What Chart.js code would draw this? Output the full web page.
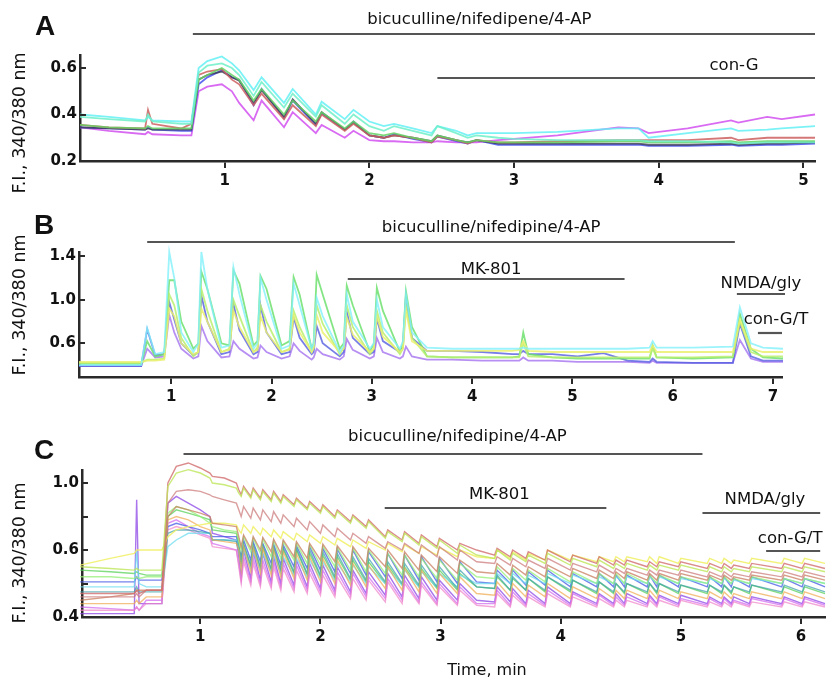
<!DOCTYPE html>
<html><head><meta charset="utf-8">
<script src="https://cdn.jsdelivr.net/npm/chart.js@4/dist/chart.umd.min.js"></script>
<style>
html,body{margin:0;padding:0;background:#fff;}
#wrap{position:relative;width:827px;height:681px;overflow:hidden;background:#fff;}
canvas{position:absolute;left:0;}
</style></head>
<body><div id="wrap">
<canvas id="cA" width="827" height="200" style="top:0px"></canvas>
<canvas id="cB" width="827" height="210" style="top:200px"></canvas>
<canvas id="cC" width="827" height="271" style="top:410px"></canvas>
</div>
<script>
// ---------- Panel A data ----------
const aTime = [0,0.2,0.45,0.47,0.5,0.7,0.77,0.82,0.88,0.98,
 1.05,1.1,1.2,1.255,1.41,1.47,1.63,1.67,1.83,1.89,
 2.0,2.1,2.17,2.3,2.43,2.47,2.6,2.68,2.74,2.89,
 3.0,3.3,3.72,3.86,3.93,4.2,4.5,4.55,4.75,4.85,5.08];
const aCyan = [0.40,0.39,0.375,0.39,0.375,0.37,0.37,0.60,0.63,0.65,
 0.62,0.59,0.505,0.56,0.45,0.51,0.40,0.455,0.38,0.42,
 0.37,0.35,0.36,0.34,0.32,0.35,0.33,0.31,0.32,0.32,
 0.32,0.325,0.34,0.34,0.30,0.32,0.34,0.33,0.335,0.34,0.35];
const aAqua = [0.39,0.38,0.37,0.40,0.37,0.36,0.36,0.58,0.61,0.62,
 0.60,0.57,0.48,0.54,0.43,0.49,0.39,0.44,0.36,0.40,
 0.35,0.33,0.35,0.33,0.31,0.35,0.32,0.30,0.31,0.30,
 0.295,0.29,0.29,0.29,0.285,0.285,0.28,0.275,0.28,0.28,0.28];
const aGreen = [0.355,0.345,0.34,0.35,0.34,0.34,0.34,0.55,0.57,0.60,
 0.57,0.55,0.46,0.51,0.40,0.46,0.37,0.41,0.34,0.37,
 0.32,0.31,0.32,0.30,0.285,0.31,0.29,0.28,0.29,0.28,
 0.28,0.28,0.285,0.285,0.28,0.28,0.285,0.28,0.285,0.285,0.285];
const aRed = [0.355,0.345,0.34,0.42,0.36,0.34,0.36,0.57,0.585,0.595,
 0.55,0.53,0.44,0.49,0.38,0.44,0.35,0.40,0.33,0.36,
 0.31,0.30,0.31,0.30,0.28,0.305,0.29,0.275,0.29,0.28,
 0.28,0.285,0.29,0.29,0.29,0.29,0.30,0.29,0.30,0.30,0.30];
const aBlue = [0.345,0.34,0.335,0.345,0.335,0.33,0.33,0.53,0.56,0.59,
 0.56,0.55,0.44,0.51,0.385,0.46,0.355,0.405,0.335,0.37,
 0.31,0.30,0.315,0.295,0.28,0.305,0.285,0.275,0.29,0.27,
 0.27,0.27,0.27,0.27,0.265,0.265,0.27,0.265,0.27,0.27,0.275];
const aDark = [0.345,0.34,0.335,0.34,0.335,0.335,0.335,0.55,0.57,0.585,
 0.56,0.545,0.45,0.505,0.39,0.465,0.36,0.41,0.335,0.365,
 0.31,0.30,0.31,0.30,0.285,0.31,0.29,0.28,0.29,0.275,
 0.275,0.275,0.275,0.275,0.27,0.27,0.275,0.27,0.275,0.275,0.28];
const aMagenta = [0.345,0.33,0.315,0.325,0.315,0.31,0.31,0.50,0.52,0.53,
 0.50,0.45,0.375,0.46,0.345,0.41,0.32,0.355,0.30,0.33,
 0.29,0.285,0.285,0.28,0.28,0.285,0.28,0.28,0.28,0.29,
 0.295,0.31,0.345,0.34,0.32,0.34,0.375,0.365,0.39,0.38,0.40];
const aXTicks = [1,2,3,4,5];
const aYTicks = [0.2,0.4,0.6];
const aYLabels = ['0.2','0.4','0.6'];
const aDrugs = ['bicuculline/nifedipene/4-AP','con-G'];
const aDrugStart = [0.78,2.47];
const aDrugEnd = [5.08,5.08];
const aDrugTextAt = [2.76,4.52];

// ---------- Panel B data ----------
const bTime = [0.08,0.40,0.70,0.76,0.84,0.93,0.98,1.03,1.10,1.22,
 1.27,1.30,1.36,1.50,1.58,1.62,1.68,1.82,1.86,1.89,
 1.95,2.10,2.18,2.22,2.28,2.40,2.42,2.45,2.51,2.68,
 2.72,2.75,2.81,2.98,3.02,3.05,3.11,3.28,3.31,3.34,
 3.40,3.55,3.80,4.10,4.40,4.47,4.51,4.56,4.80,5.05,
 5.31,5.55,5.77,5.80,5.84,6.20,6.60,6.67,6.78,6.90,
 7.10];
const bCyan = [0.40,0.40,0.40,0.74,0.50,0.52,1.44,1.20,0.70,0.52,
 0.60,1.44,1.10,0.56,0.58,1.30,1.05,0.55,0.60,1.20,
 1.00,0.55,0.58,1.15,0.95,0.55,0.60,1.02,0.85,0.52,
 0.58,1.05,0.80,0.55,0.60,1.00,0.75,0.55,0.62,1.05,
 0.70,0.56,0.55,0.55,0.55,0.55,0.56,0.55,0.55,0.55,
 0.55,0.55,0.56,0.62,0.56,0.56,0.57,0.93,0.60,0.56,
 0.55];
const bGreen = [0.41,0.41,0.41,0.62,0.48,0.50,1.18,1.18,0.80,0.55,
 0.60,1.26,1.10,0.60,0.58,1.27,1.15,0.58,0.62,1.22,
 1.10,0.58,0.62,1.21,1.05,0.55,0.60,1.23,1.05,0.55,
 0.60,1.13,0.95,0.52,0.60,1.11,0.90,0.52,0.60,1.08,
 0.75,0.48,0.47,0.47,0.47,0.48,0.70,0.50,0.47,0.46,
 0.46,0.46,0.46,0.58,0.47,0.46,0.47,0.87,0.55,0.47,
 0.46];
const bLime = [0.42,0.42,0.42,0.45,0.45,0.46,1.05,0.95,0.65,0.48,
 0.52,1.10,0.90,0.52,0.55,1.00,0.85,0.52,0.56,0.95,
 0.80,0.52,0.55,0.90,0.75,0.52,0.56,0.95,0.78,0.50,
 0.56,0.95,0.75,0.50,0.55,0.90,0.70,0.50,0.55,0.95,
 0.65,0.48,0.47,0.47,0.47,0.47,0.60,0.48,0.47,0.47,
 0.47,0.47,0.47,0.55,0.47,0.47,0.48,0.80,0.52,0.48,
 0.48];
const bYellow = [0.43,0.43,0.43,0.44,0.44,0.45,0.92,0.85,0.60,0.50,
 0.52,0.92,0.80,0.52,0.54,0.90,0.75,0.52,0.54,0.85,
 0.70,0.52,0.54,0.86,0.70,0.52,0.56,0.86,0.70,0.52,
 0.55,0.84,0.68,0.52,0.55,0.85,0.66,0.52,0.55,0.90,
 0.62,0.53,0.53,0.53,0.53,0.54,0.62,0.53,0.52,0.52,
 0.52,0.52,0.52,0.58,0.52,0.52,0.52,0.82,0.55,0.52,
 0.52];
const bBlue = [0.39,0.39,0.39,0.73,0.49,0.50,0.98,0.82,0.60,0.49,
 0.52,1.04,0.80,0.50,0.52,0.96,0.72,0.50,0.52,0.95,
 0.70,0.50,0.52,0.84,0.65,0.50,0.52,0.76,0.60,0.48,
 0.52,0.89,0.65,0.50,0.52,0.83,0.62,0.52,0.56,1.03,
 0.65,0.53,0.53,0.52,0.50,0.50,0.53,0.50,0.50,0.48,
 0.51,0.44,0.43,0.46,0.43,0.42,0.42,0.78,0.48,0.44,
 0.44];
const bPurple = [0.39,0.39,0.39,0.55,0.47,0.48,0.86,0.70,0.55,0.46,
 0.48,0.76,0.62,0.47,0.48,0.62,0.55,0.46,0.47,0.58,
 0.52,0.46,0.48,0.60,0.53,0.45,0.47,0.55,0.50,0.45,
 0.48,0.64,0.54,0.46,0.48,0.65,0.52,0.46,0.48,0.57,
 0.48,0.45,0.45,0.44,0.44,0.44,0.47,0.44,0.44,0.43,
 0.43,0.43,0.42,0.44,0.42,0.42,0.42,0.63,0.46,0.43,
 0.43];
const bXTicks = [1,2,3,4,5,6,7];
const bYTicks = [0.6,1.0,1.4];
const bYLabels = ['0.6','1.0','1.4'];
const bDrugs = ['bicuculline/nifedipine/4-AP','MK-801','NMDA/gly','con-G/T'];
const bDrugStart = [0.76,2.76,6.64,6.85];
const bDrugEnd = [6.62,5.52,7.12,7.09];
const bDrugTextAt = [4.19,4.19,6.88,7.03];

// ---------- Panel C data ----------
const cTime = [0,0.25,0.45,0.47,0.49,0.55,0.68,0.73,0.80,0.90,
 1.00,1.08,1.10,1.20,1.30,1.32,1.34,1.36,1.42,1.44,
 1.50,1.52,1.59,1.61,1.67,1.69,1.78,1.80,1.89,1.91,
 2.00,2.02,2.12,2.14,2.25,2.27,2.38,2.40,2.54,2.56,
 2.68,2.70,2.82,2.84,2.97,2.99,3.14,3.16,3.30,3.45,
 3.47,3.58,3.60,3.71,3.73,3.87,3.89,4.08,4.10,4.30,
 4.32,4.44,4.46,4.53,4.55,4.72,4.74,4.80,4.82,4.98,
 5.00,5.22,5.24,5.34,5.36,5.42,5.44,5.57,5.59,5.84,
 5.86,6.01,6.03,6.20];
const cRed1 = [0.47,0.47,0.47,0.48,0.47,0.48,0.48,1.00,1.10,1.12,1.09,1.06,1.04,1.03,1.00,0.96,
 0.93,0.98,0.92,0.97,0.91,0.96,0.90,0.95,0.89,0.93,0.87,0.91,0.85,0.89,0.83,0.87,
 0.80,0.84,0.77,0.81,0.74,0.78,0.68,0.72,0.66,0.71,0.64,0.69,0.62,0.67,0.60,0.64,
 0.60,
 0.585,0.61,0.58,0.60,0.575,0.595,0.57,0.60,0.565,0.585,0.56,0.58,0.555,0.57,0.555,0.57,
 0.55,0.565,0.55,0.565,0.55,0.565,0.545,0.56,0.545,0.56,0.545,0.555,0.545,0.56,0.545,0.56,0.545,0.56,
 0.545];
const cYellowGreen = [0.55,0.545,0.54,0.545,0.54,0.54,0.54,0.98,1.06,1.08,1.06,1.03,1.00,0.99,0.97,0.94,
 0.92,0.97,0.91,0.96,0.90,0.95,0.89,0.94,0.88,0.92,0.86,0.90,0.84,0.88,0.82,0.86,
 0.79,0.83,0.76,0.80,0.73,0.77,0.67,0.71,0.65,0.70,0.63,0.68,0.61,0.66,0.59,0.63,
 0.585,
 0.575,0.60,0.57,0.59,0.565,0.585,0.56,0.59,0.555,0.575,0.55,0.57,0.545,0.56,0.545,0.56,
 0.54,0.555,0.54,0.555,0.54,0.555,0.535,0.55,0.535,0.55,0.535,0.545,0.535,0.55,0.535,0.55,0.535,0.55,
 0.535];
const cRed2 = [0.46,0.46,0.46,0.47,0.46,0.48,0.48,0.88,0.95,0.96,0.95,0.93,0.92,0.90,0.88,0.84,
 0.80,0.86,0.79,0.85,0.78,0.84,0.77,0.83,0.76,0.81,0.74,0.79,0.72,0.77,0.70,0.75,
 0.68,0.73,0.66,0.70,0.64,0.68,0.61,0.65,0.60,0.64,0.59,0.63,0.58,0.62,0.57,0.60,
 0.565,
 0.56,0.58,0.555,0.575,0.55,0.57,0.545,0.575,0.54,0.56,0.535,0.555,0.53,0.545,0.53,0.545,
 0.525,0.54,0.525,0.54,0.525,0.54,0.52,0.535,0.52,0.535,0.52,0.53,0.52,0.535,0.52,0.535,0.52,0.535,
 0.52];
const cYellow = [0.555,0.575,0.59,0.60,0.60,0.60,0.60,0.68,0.72,0.74,0.75,0.76,0.76,0.76,0.75,0.72,
 0.70,0.75,0.70,0.74,0.69,0.73,0.68,0.72,0.67,0.71,0.66,0.70,0.65,0.69,0.64,0.68,
 0.63,0.67,0.62,0.66,0.61,0.65,0.60,0.64,0.595,0.63,0.59,0.62,0.585,0.615,0.58,0.60,
 0.58,
 0.575,0.60,0.575,0.595,0.57,0.59,0.57,0.60,0.57,0.585,0.565,0.58,0.565,0.58,0.565,0.58,
 0.565,0.58,0.56,0.58,0.56,0.575,0.56,0.575,0.56,0.575,0.56,0.57,0.56,0.575,0.56,0.575,0.56,0.575,
 0.56];
const cBlue = [0.505,0.505,0.505,0.52,0.51,0.51,0.51,0.74,0.76,0.74,0.72,0.70,0.68,0.68,0.68,0.62,
 0.58,0.66,0.57,0.65,0.565,0.64,0.56,0.635,0.555,0.63,0.55,0.625,0.545,0.62,0.54,0.61,
 0.535,0.605,0.53,0.60,0.525,0.595,0.52,0.59,0.515,0.585,0.51,0.58,0.505,0.575,0.50,0.565,
 0.505,
 0.50,0.54,0.50,0.54,0.495,0.535,0.495,0.54,0.49,0.53,0.49,0.53,0.49,0.525,0.49,0.525,
 0.49,0.525,0.49,0.525,0.49,0.52,0.49,0.52,0.49,0.52,0.49,0.515,0.49,0.52,0.49,0.515,0.49,0.515,
 0.49];
const cGreen = [0.54,0.535,0.53,0.535,0.53,0.525,0.525,0.80,0.84,0.82,0.80,0.78,0.72,0.71,0.70,0.64,
 0.56,0.63,0.55,0.62,0.545,0.615,0.54,0.61,0.535,0.605,0.53,0.60,0.525,0.59,0.52,0.585,
 0.515,0.58,0.51,0.57,0.505,0.565,0.50,0.555,0.495,0.55,0.49,0.545,0.485,0.54,0.48,0.53,
 0.49,
 0.485,0.52,0.48,0.515,0.48,0.515,0.475,0.52,0.475,0.51,0.47,0.505,0.47,0.50,0.47,0.50,
 0.47,0.50,0.47,0.50,0.47,0.495,0.47,0.495,0.47,0.495,0.47,0.49,0.47,0.495,0.47,0.49,0.47,0.49,
 0.47];
const cCyan = [0.49,0.49,0.49,0.60,0.50,0.49,0.49,0.62,0.66,0.70,0.70,0.70,0.66,0.66,0.66,0.60,
 0.55,0.60,0.545,0.595,0.54,0.59,0.535,0.585,0.53,0.58,0.525,0.575,0.52,0.57,0.515,0.565,
 0.51,0.56,0.505,0.555,0.50,0.55,0.50,0.545,0.495,0.54,0.49,0.535,0.49,0.53,0.49,0.525,
 0.50,
 0.50,0.53,0.50,0.53,0.50,0.525,0.50,0.53,0.50,0.525,0.50,0.52,0.50,0.52,0.50,0.52,
 0.50,0.52,0.50,0.52,0.50,0.515,0.50,0.515,0.50,0.515,0.50,0.51,0.50,0.515,0.50,0.515,0.50,0.515,
 0.50];
const cPurple = [0.41,0.41,0.41,0.90,0.44,0.44,0.44,0.88,0.92,0.88,0.84,0.80,0.70,0.68,0.66,0.58,
 0.52,0.60,0.515,0.595,0.51,0.59,0.505,0.58,0.50,0.575,0.495,0.57,0.49,0.56,0.485,0.555,
 0.48,0.55,0.475,0.54,0.47,0.535,0.465,0.53,0.46,0.525,0.455,0.52,0.45,0.51,0.45,0.50,
 0.45,
 0.445,0.49,0.445,0.485,0.44,0.48,0.44,0.49,0.44,0.475,0.44,0.47,0.44,0.47,0.44,0.47,
 0.44,0.465,0.44,0.465,0.44,0.465,0.44,0.46,0.44,0.46,0.44,0.46,0.44,0.46,0.44,0.46,0.44,0.46,
 0.44];
const cMagenta = [0.43,0.425,0.42,0.43,0.42,0.45,0.45,0.76,0.78,0.74,0.70,0.68,0.64,0.62,0.60,0.56,
 0.51,0.58,0.505,0.575,0.50,0.57,0.495,0.565,0.49,0.56,0.485,0.555,0.48,0.545,0.475,0.54,
 0.47,0.535,0.465,0.53,0.46,0.52,0.455,0.515,0.45,0.51,0.445,0.505,0.44,0.50,0.44,0.49,
 0.44,
 0.44,0.48,0.435,0.475,0.435,0.47,0.435,0.48,0.435,0.47,0.435,0.465,0.435,0.46,0.435,0.46,
 0.435,0.46,0.435,0.46,0.435,0.455,0.435,0.455,0.435,0.455,0.435,0.45,0.435,0.455,0.435,0.455,0.435,0.455,
 0.435];
const cLightGreen = [0.52,0.52,0.515,0.52,0.515,0.52,0.52,0.82,0.86,0.84,0.80,0.76,0.74,0.72,0.71,0.66,
 0.60,0.68,0.595,0.67,0.59,0.665,0.58,0.655,0.575,0.65,0.57,0.64,0.56,0.63,0.555,0.625,
 0.55,0.615,0.54,0.61,0.535,0.60,0.53,0.59,0.525,0.585,0.52,0.575,0.515,0.57,0.51,0.56,
 0.52,
 0.515,0.55,0.51,0.545,0.51,0.54,0.505,0.545,0.505,0.535,0.50,0.53,0.50,0.53,0.50,0.53,
 0.50,0.525,0.50,0.525,0.50,0.52,0.50,0.52,0.50,0.52,0.50,0.515,0.50,0.52,0.50,0.515,0.50,0.515,
 0.50];
const cBrown = [0.45,0.46,0.47,0.48,0.48,0.48,0.48,0.80,0.86,0.84,0.82,0.80,0.76,0.75,0.74,0.68,
 0.62,0.69,0.61,0.68,0.60,0.675,0.595,0.665,0.59,0.66,0.58,0.65,0.575,0.64,0.57,0.635,
 0.565,0.625,0.56,0.62,0.555,0.61,0.55,0.60,0.545,0.595,0.54,0.585,0.535,0.58,0.53,0.57,
 0.535,
 0.53,0.56,0.525,0.555,0.525,0.55,0.52,0.555,0.52,0.545,0.515,0.54,0.515,0.535,0.515,0.535,
 0.51,0.53,0.51,0.53,0.51,0.53,0.51,0.525,0.51,0.525,0.51,0.52,0.51,0.525,0.51,0.525,0.51,0.525,
 0.51];
const cOrange = [0.44,0.44,0.44,0.45,0.44,0.46,0.46,0.78,0.80,0.78,0.74,0.72,0.66,0.65,0.64,0.60,
 0.54,0.62,0.535,0.615,0.53,0.61,0.525,0.60,0.52,0.595,0.515,0.59,0.51,0.58,0.505,0.575,
 0.50,0.57,0.495,0.56,0.49,0.555,0.485,0.55,0.48,0.545,0.475,0.54,0.47,0.53,0.47,0.52,
 0.47,
 0.465,0.505,0.46,0.50,0.46,0.495,0.46,0.50,0.455,0.49,0.455,0.485,0.455,0.48,0.455,0.48,
 0.455,0.48,0.455,0.48,0.455,0.475,0.455,0.475,0.455,0.475,0.455,0.47,0.455,0.475,0.455,0.475,0.455,0.475,
 0.455];
const cTeal = [0.475,0.475,0.475,0.49,0.475,0.475,0.475,0.70,0.72,0.72,0.71,0.70,0.66,0.66,0.65,0.60,
 0.56,0.64,0.555,0.635,0.55,0.63,0.545,0.62,0.54,0.615,0.535,0.61,0.53,0.60,0.525,0.595,
 0.52,0.59,0.515,0.58,0.51,0.575,0.505,0.565,0.50,0.56,0.495,0.555,0.49,0.55,0.485,0.54,
 0.49,
 0.485,0.525,0.48,0.52,0.48,0.515,0.48,0.52,0.48,0.51,0.475,0.505,0.475,0.50,0.475,0.50,
 0.475,0.50,0.475,0.50,0.475,0.495,0.475,0.495,0.475,0.495,0.475,0.49,0.475,0.495,0.475,0.495,0.475,0.495,
 0.475];
const cPink = [0.42,0.42,0.42,0.43,0.42,0.44,0.44,0.72,0.74,0.72,0.69,0.67,0.62,0.61,0.60,0.55,
 0.50,0.565,0.495,0.56,0.49,0.555,0.485,0.55,0.48,0.545,0.475,0.54,0.47,0.53,0.465,0.525,
 0.46,0.52,0.455,0.515,0.45,0.51,0.445,0.505,0.44,0.50,0.44,0.495,0.435,0.49,0.435,0.48,
 0.435,
 0.43,0.47,0.43,0.465,0.43,0.46,0.43,0.47,0.43,0.46,0.43,0.455,0.43,0.45,0.43,0.45,
 0.43,0.45,0.43,0.45,0.43,0.45,0.43,0.445,0.43,0.445,0.43,0.445,0.43,0.445,0.43,0.445,0.43,0.445,
 0.43];
const cXTicks = [1,2,3,4,5,6];
const cYTicks = [0.4,0.5,0.6,0.8,1.0];
const cYLabels = ['0.4','','0.6','','1.0'];
const cDrugs = ['bicuculline/nifedipine/4-AP','MK-801','NMDA/gly','con-G/T'];
const cDrugStart = [0.86,2.535,5.18,5.71];
const cDrugEnd = [5.18,4.38,6.16,6.16];
const cDrugTextAt = [3.14,3.49,5.70,5.91];

// ---------- broken (two-segment) y scale used by panel C ----------
const brkFwd = v => v <= 0.6 ? v : 0.6 + (v - 0.6) * 0.5;
const brkInv = u => u <= 0.6 ? u : 0.6 + (u - 0.6) * 2;
class BrokenScale extends Chart.LinearScale {
  getPixelForValue(v) {
    if (v === null || v === undefined) return NaN;
    const a = brkFwd(this.min), b = brkFwd(this.max);
    return this.getPixelForDecimal((brkFwd(v) - a) / (b - a));
  }
  getValueForPixel(p) {
    const a = brkFwd(this.min), b = brkFwd(this.max);
    return brkInv(a + this.getDecimalForPixel(p) * (b - a));
  }
}
BrokenScale.id = 'broken';
BrokenScale.defaults = Chart.LinearScale.defaults;
Chart.register(BrokenScale);

// ---------- drawing ----------
const AX = '#2a2a2a';
const TICKFONT = {family: '"DejaVu Sans", sans-serif', size: 15, weight: 'bold'};
const LABELFONT = '16.5px "DejaVu Sans", sans-serif';
const YTFONT = '17.5px "DejaVu Sans", sans-serif';
const LETTERFONT = 'bold 28px "Liberation Sans", Arial, sans-serif';

function annot(P) {
  return {
    id: 'annot',
    afterDraw(chart) {
      const ctx = chart.ctx, ca = chart.chartArea, xs = chart.scales.x, ys = chart.scales.y;
      ctx.save();
      ctx.strokeStyle = AX; ctx.lineWidth = 2;
      P.yTicks.forEach(v => {
        const py = Math.round(ys.getPixelForValue(v));
        ctx.beginPath(); ctx.moveTo(ca.left, py); ctx.lineTo(ca.left + 6, py); ctx.stroke();
      });
      ctx.fillStyle = '#111';
      ctx.textAlign = 'center'; ctx.textBaseline = 'middle';
      P.drugs.forEach((name, i) => {
        const x1 = xs.getPixelForValue(P.drugStart[i]), x2 = xs.getPixelForValue(P.drugEnd[i]);
        ctx.strokeStyle = '#555'; ctx.lineWidth = 2.2;
        ctx.beginPath(); ctx.moveTo(x1, P.barY[i]); ctx.lineTo(x2, P.barY[i]); ctx.stroke();
        ctx.font = LABELFONT;
        ctx.fillText(name, xs.getPixelForValue(P.drugTextAt[i]), P.textY[i]);
      });
      ctx.font = LETTERFONT;
      ctx.fillText(P.letter, P.letterX, P.letterY);
      ctx.save();
      ctx.translate(20, P.yTitleY); ctx.rotate(-Math.PI / 2);
      ctx.font = YTFONT; ctx.fillText('F.I., 340/380 nm', 0, 0);
      ctx.restore();
      if (P.xTitle) { ctx.font = '16px "DejaVu Sans", sans-serif'; ctx.fillText(P.xTitle, P.xTitleX, P.xTitleY); }
      ctx.restore();
    }
  };
}

function makePanel(id, P) {
  return new Chart(document.getElementById(id), {
    type: 'line',
    data: {
      datasets: P.series.map(s => ({
        data: s.values.map((y, i) => ({x: P.times[i], y: y})),
        borderColor: s.color, borderWidth: P.lw, pointRadius: 0, fill: false,
        tension: 0, clip: false
      }))
    },
    options: {
      responsive: false, animation: false, devicePixelRatio: 1, events: [],
      layout: {padding: {left: 0, right: P.right, top: P.top, bottom: 0}},
      plugins: {legend: {display: false}, tooltip: {enabled: false}},
      scales: {
        x: {
          type: 'linear', min: P.xMin, max: P.xMax,
          afterBuildTicks: s => { s.ticks = P.xTicks.map(v => ({value: v})); },
          afterFit: s => { s.height = P.xH; },
          grid: {display: true, drawOnChartArea: false, drawTicks: true, tickLength: 7, color: AX, lineWidth: 2},
          border: {display: true, color: AX, width: 2.5},
          ticks: {padding: 4, font: TICKFONT, color: '#111', maxRotation: 0, autoSkip: false}
        },
        y: {
          type: P.yType, min: P.yMin, max: P.yMax,
          afterBuildTicks: s => { s.ticks = P.yTicks.map(v => ({value: v})); },
          afterFit: s => { s.width = P.left; },
          grid: {display: false, drawTicks: false},
          border: {display: true, color: AX, width: 2.5},
          ticks: {padding: 3, font: TICKFONT, color: '#111', autoSkip: false,
                  callback: (v, i) => P.yLabels[i]}
        }
      }
    },
    plugins: [annot(P)]
  });
}

makePanel('cA', {
  times: aTime, lw: 1.8,
  series: [
    {values: aAqua, color: 'rgba(110,240,200,0.85)'},
    {values: aCyan, color: 'rgba(100,240,245,0.85)'},
    {values: aGreen, color: 'rgba(100,210,100,0.85)'},
    {values: aRed, color: 'rgba(205,95,95,0.85)'},
    {values: aDark, color: 'rgba(60,60,80,0.8)'},
    {values: aBlue, color: 'rgba(70,80,240,0.85)'},
    {values: aMagenta, color: 'rgba(210,80,240,0.85)'}
  ],
  xMin: 0, xMax: 5.08, xTicks: aXTicks, yType: 'linear', yMin: 0.2, yMax: 0.656,
  yTicks: aYTicks, yLabels: aYLabels, left: 80, right: 12, top: 55, xH: 39,
  drugs: aDrugs, drugStart: aDrugStart, drugEnd: aDrugEnd, drugTextAt: aDrugTextAt,
  barY: [34, 78], textY: [20, 66], letter: 'A', letterX: 45, letterY: 27, yTitleY: 123
});

makePanel('cB', {
  times: bTime, lw: 1.8,
  series: [
    {values: bCyan, color: 'rgba(130,240,250,0.8)'},
    {values: bYellow, color: 'rgba(235,240,110,0.85)'},
    {values: bLime, color: 'rgba(185,240,110,0.85)'},
    {values: bGreen, color: 'rgba(110,225,110,0.85)'},
    {values: bBlue, color: 'rgba(85,95,225,0.8)'},
    {values: bPurple, color: 'rgba(165,115,240,0.8)'}
  ],
  xMin: 0.08, xMax: 7.09, xTicks: bXTicks, yType: 'linear', yMin: 0.29, yMax: 1.44,
  yTicks: bYTicks, yLabels: bYLabels, left: 79, right: 45, top: 52, xH: 33,
  drugs: bDrugs, drugStart: bDrugStart, drugEnd: bDrugEnd, drugTextAt: bDrugTextAt,
  barY: [42, 79, 94, 133], textY: [28, 70, 84, 120], letter: 'B', letterX: 44, letterY: 26, yTitleY: 105
});

makePanel('cC', {
  times: cTime, lw: 1.4,
  series: [
    {values: cYellowGreen, color: 'rgba(190,230,90,0.8)'},
    {values: cRed1, color: 'rgba(210,110,110,0.8)'},
    {values: cRed2, color: 'rgba(205,125,125,0.75)'},
    {values: cBrown, color: 'rgba(200,125,95,0.75)'},
    {values: cYellow, color: 'rgba(240,240,100,0.85)'},
    {values: cLightGreen, color: 'rgba(150,240,120,0.75)'},
    {values: cOrange, color: 'rgba(240,170,80,0.7)'},
    {values: cTeal, color: 'rgba(60,160,170,0.7)'},
    {values: cCyan, color: 'rgba(110,220,240,0.75)'},
    {values: cGreen, color: 'rgba(90,210,90,0.75)'},
    {values: cBlue, color: 'rgba(70,90,230,0.75)'},
    {values: cPink, color: 'rgba(240,130,200,0.7)'},
    {values: cMagenta, color: 'rgba(210,110,240,0.75)'},
    {values: cPurple, color: 'rgba(140,70,230,0.75)'}
  ],
  xMin: 0.015, xMax: 6.2, xTicks: cXTicks, yType: 'broken', yMin: 0.4, yMax: 1.078,
  yTicks: cYTicks, yLabels: cYLabels, left: 82, right: 2, top: 60, xH: 64,
  drugs: cDrugs, drugStart: cDrugStart, drugEnd: cDrugEnd, drugTextAt: cDrugTextAt,
  barY: [44, 98, 103, 141], textY: [27, 85, 90, 129], letter: 'C', letterX: 44, letterY: 41, yTitleY: 143,
  xTitle: 'Time, min', xTitleX: 487, xTitleY: 261
});
</script>
</body></html>
